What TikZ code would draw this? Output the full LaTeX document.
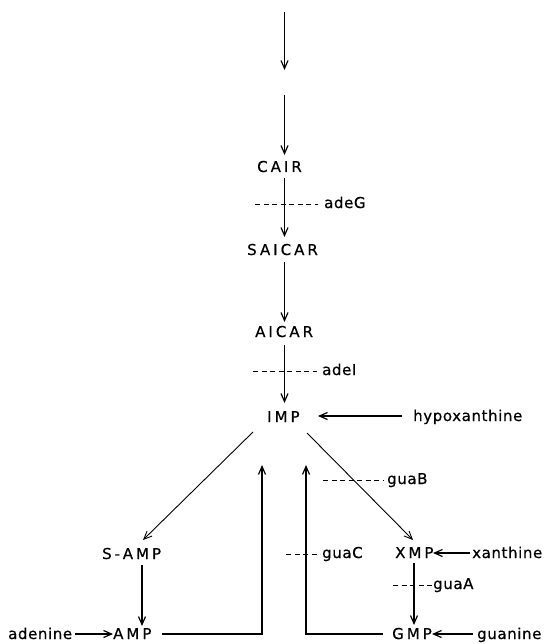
\documentclass[tikz,border=0pt]{standalone}
\usepackage{fontspec}
\setmainfont{DejaVu Sans}
\newfontfamily\capfont[LetterSpace=20,FakeBold=0.6]{DejaVu Sans}
\newfontfamily\lowfont[LetterSpace=4,FakeBold=0.6]{DejaVu Sans}
\usetikzlibrary{arrows.meta,calc}

\tikzset{
  met/.style={anchor=base west, inner sep=0pt, font=\fontsize{15}{17}\selectfont\capfont},
  sub/.style={anchor=base west, inner sep=0pt, font=\fontsize{15}{17}\selectfont\lowfont},
  enz/.style={anchor=base west, inner sep=0pt, font=\fontsize{15}{17}\selectfont\lowfont},
  arr/.style={line width=1.2pt, -{Straight Barb[length=8pt,width=7pt]}},
  diag/.style={line width=0.9pt, -{Straight Barb[length=8pt,width=7pt]}},
  loopline/.style={line width=1.2pt, -{Straight Barb[length=8pt,width=7pt]}},
  enzline/.style={line width=0.7pt, dash pattern=on 5pt off 3.5pt},
}

\begin{document}
\begin{tikzpicture}[x=1pt,y=-1pt]
\useasboundingbox (0,0) rectangle (543,644);

% metabolites of the pathway
\node[met] (CAIR)   at (257,172) {CAIR};
\node[met] (SAICAR) at (247,255) {SAICAR};
\node[met] (AICAR)  at (255,337) {AICAR};
\node[met] (IMP)    at (267,422) {IMP};
\node[met] (SAMP)   at (102,559) {S-AMP};
\node[met] (AMP)    at (113,639) {AMP};
\node[met] (XMP)    at (395,558) {XMP};
\node[met] (GMP)    at (392,639) {GMP};

% salvaged bases
\node[sub] (hyp)  at (413,421) {hypoxanthine};
\node[sub] (aden) at (8,639)   {adenine};
\node[sub] (xan)  at (472,558) {xanthine};
\node[sub] (guan) at (477,639) {guanine};

% genes
\node[enz] (adeG) at (324,208) {adeG};
\node[enz] (adeI) at (322,375) {adeI};
\node[enz] (guaB) at (387,484) {guaB};
\node[enz] (guaC) at (322,558) {guaC};
\node[enz] (guaA) at (433,589) {guaA};

% free ends of the upper pathway
\coordinate (t0) at (284.5,12);
\coordinate (t1) at (284.5,70);
\coordinate (t2) at (284.5,95);

% main vertical chain
\draw[arr] (t0) -- (t1);
\draw[arr] (t2) -- ($(CAIR.base west)+(27.5,-17)$);
\draw[arr] ($(CAIR.base west)+(27.5,6)$) -- ($(SAICAR.base west)+(37.5,-18)$);
\draw[arr] ($(SAICAR.base west)+(37.5,7)$) -- ($(AICAR.base west)+(29.5,-15)$);
\draw[arr] ($(AICAR.base west)+(29.5,8)$) -- ($(IMP.base west)+(17.5,-19)$);

% hypoxanthine salvage
\draw[arr] ($(hyp.base west)+(-11,-5)$) -- ($(IMP.base west)+(51,-6)$);

% branch to AMP
\draw[diag] ($(IMP.base west)+(-14,10)$) -- ($(SAMP.base west)+(41,-19)$);
\draw[arr] ($(SAMP.base west)+(40,6)$) -- ($(AMP.base west)+(29,-13)$);
\draw[arr] ($(aden.base west)+(67,-5)$) -- ($(AMP.base west)+(0,-5)$);
\draw[loopline] ($(AMP.base west)+(49,-5)$) -| ($(IMP.base west)+(-5,43)$);

% branch to GMP
\draw[diag] ($(IMP.base west)+(40,11)$) -- ($(XMP.base west)+(18,-18)$);
\draw[arr] ($(xan.base west)+(-2,-5)$) -- ($(XMP.base west)+(38,-5)$);
\draw[arr] ($(XMP.base west)+(19,5)$) -- ($(GMP.base west)+(22,-14)$);
\draw[arr] ($(guan.base west)+(-4,-5)$) -- ($(GMP.base west)+(40,-5)$);
\draw[loopline] ($(GMP.base west)+(-9,-5)$) -| ($(IMP.base west)+(39,43)$);

% gene markers
\coordinate (dG) at (255,204);
\coordinate (dI) at (253,371);
\coordinate (dB) at (323,480);
\coordinate (dC) at (286,554);
\coordinate (dA) at (393,585);
\draw[enzline] (dG) -- ($(adeG.base west)+(-6,-4)$);
\draw[enzline] (dI) -- ($(adeI.base west)+(-5,-4)$);
\draw[enzline] (dB) -- ($(guaB.base west)+(-4,-4)$);
\draw[enzline] (dC) -- ($(guaC.base west)+(-2,-4)$);
\draw[enzline] (dA) -- ($(guaA.base west)+(-1,-4)$);
\end{tikzpicture}
\end{document}
